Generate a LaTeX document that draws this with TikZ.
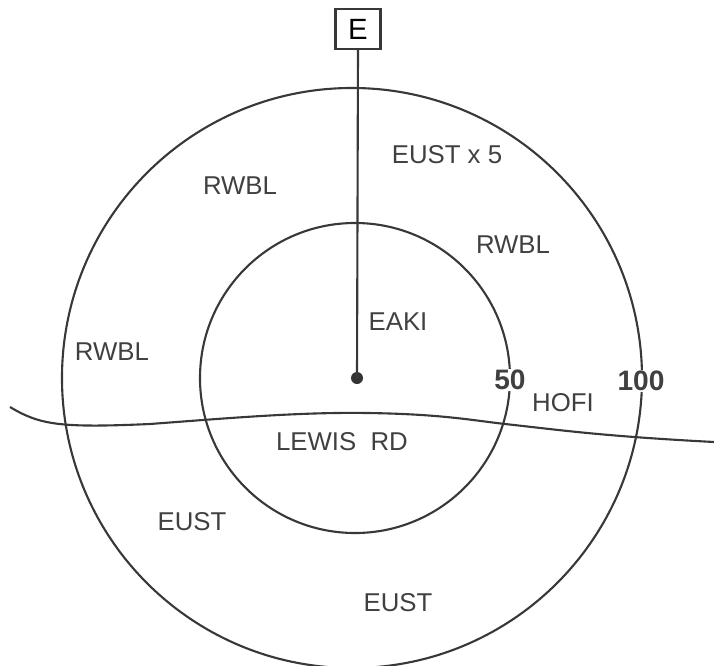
\documentclass[tikz,border=0pt]{standalone}
\usepackage{fontspec}
\setmainfont{Liberation Sans}
\usetikzlibrary{positioning}

\begin{document}
\begin{tikzpicture}[
    x=0.03cm, y=-0.03cm,
    pen/.style={draw=black!78, line width=1.8pt},
    ring/.style={pen, circle, inner sep=0pt},
    sign/.style={pen, minimum width=1.35cm, minimum height=1.2cm, inner sep=0pt, font=\fontsize{25}{27}\selectfont},
    hand/.style={text=black!75, font=\fontsize{22}{24}\selectfont},
    dist/.style={text=black!75, fill=white, inner sep=1pt, font=\fontsize{24}{26}\selectfont\bfseries}
]
\useasboundingbox (0,0) rectangle (714,666);
% rings round the station
\node[ring, minimum size=17.4cm] (outer) at (352,378) {};
\node[ring, minimum size=9.3cm] (inner) at (355,378) {};
\fill[black!80] (357,378) circle (6) coordinate (centre);
\node[sign] (post) at (358,29) {E};
\draw[pen] (post.south) -- (centre);
% road
\coordinate (roadW) at (10,407);
\coordinate (roadE) at (714,442);
\draw[pen] (roadW) .. controls (40,425) and (60,428) .. (150,424)
    .. controls (230,418) and (300,412) .. (367,413)
    .. controls (440,414) and (470,420) .. (505,424)
    .. controls (560,430) and (600,436) .. (roadE);
% labels
\node[hand] (eust5) at (447,155) {EUST x 5};
\node[hand] (rwblA) at (240,186) {RWBL};
\node[hand] (rwblB) at (513,245) {RWBL};
\node[hand] (eaki) at (398,322) {EAKI};
\node[hand] (rwblC) at (112,352) {RWBL};
\node[dist] (r50) at (510,380) {50};
\node[hand] (hofi) at (563,403) {HOFI};
\node[dist] (r100) at (641,381) {100};
\node[hand] (lewis) at (342,442) {LEWIS~~RD};
\node[hand] (eustA) at (192,522) {EUST};
\node[hand] (eustB) at (398,603) {EUST};
\end{tikzpicture}
\end{document}
